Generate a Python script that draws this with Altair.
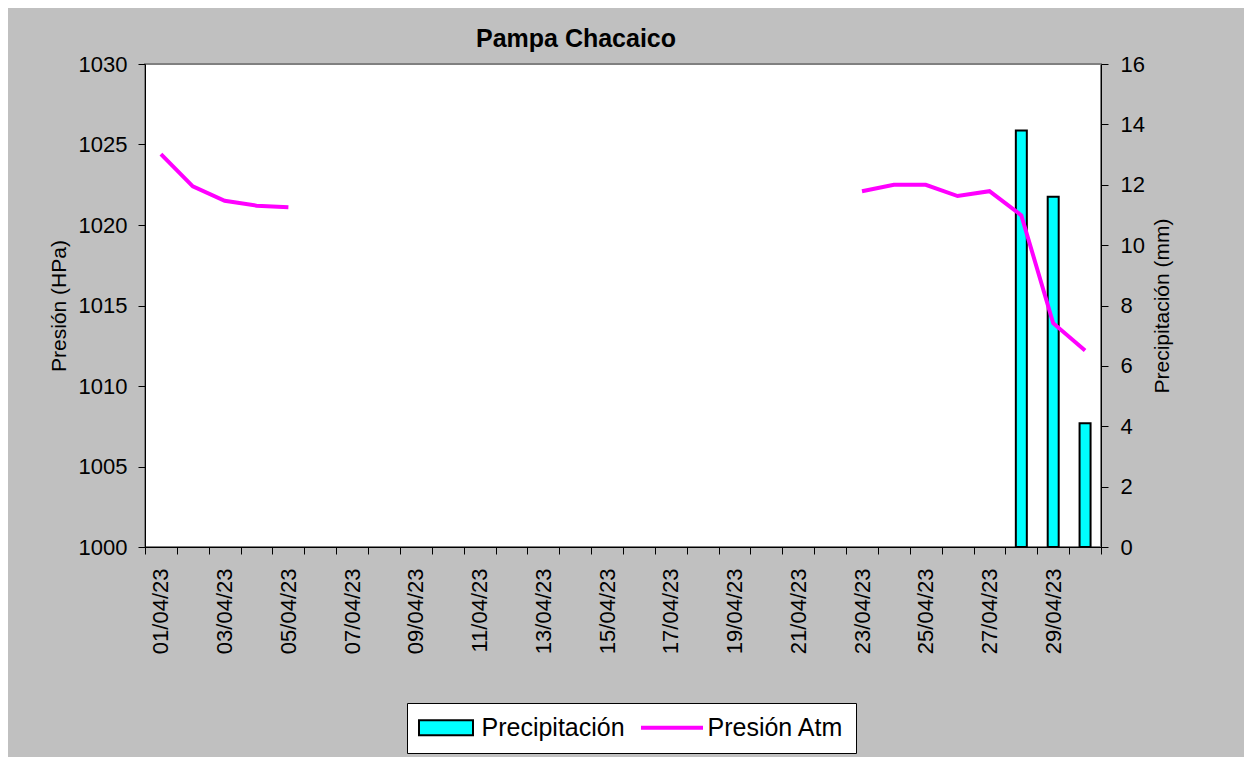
import altair as alt
import pandas as pd

dias = ["01/04/23", "02/04/23", "03/04/23", "04/04/23", "05/04/23", "06/04/23",
        "07/04/23", "08/04/23", "09/04/23", "10/04/23", "11/04/23", "12/04/23",
        "13/04/23", "14/04/23", "15/04/23", "16/04/23", "17/04/23", "18/04/23",
        "19/04/23", "20/04/23", "21/04/23", "22/04/23", "23/04/23", "24/04/23",
        "25/04/23", "26/04/23", "27/04/23", "28/04/23", "29/04/23", "30/04/23"]

presion = [1024.4, 1022.4, 1021.5, 1021.2, 1021.1,
           None, None, None, None, None, None, None, None, None, None, None,
           None, None, None, None, None, None,
           1022.1, 1022.5, 1022.5, 1021.8, 1022.1, 1020.6, 1013.9, 1012.2]

precipitacion = [None, None, None, None, None, None, None, None, None, None,
                 None, None, None, None, None, None, None, None, None, None,
                 None, None, None, None, None, None, None, 13.8, 11.6, 4.1]

series = ["Precipitación", "Presión Atm"]
relleno = ["#00FFFF", "#FF00FF"]
borde = ["#000000", "#FF00FF"]
simbolos = ["M-2.7,-0.75H2.7V0.75H-2.7Z", "M-3,-0.1H3V0.1H-3Z"]

ticks_presion = [1000, 1005, 1010, 1015, 1020, 1025, 1030]
ticks_precip = [0, 2, 4, 6, 8, 10, 12, 14, 16]

df = pd.DataFrame({"fecha": dias, "presion": presion, "precip": precipitacion})
df_leg = pd.DataFrame({"serie": series})

FONT = "Liberation Sans"

x_enc = alt.X(
    "fecha:N",
    sort=dias,
    scale=alt.Scale(type="band", domain=dias, paddingInner=0, paddingOuter=0),
    axis=alt.Axis(
        title=None, labelAngle=270, tickBand="extent", labelOverlap=False,
        labelExpr="toNumber(slice(datum.label, 0, 2)) % 2 == 1 ? datum.label : ''",
        tickSize=7, labelPadding=14, labelFontSize=22, labelColor="black",
        domainColor="black", tickColor="black", grid=False,
    ),
)

bars = alt.Chart(df).transform_filter("isValid(datum.precip)").mark_bar(
    width=alt.RelativeBandSize(0.345), fill="#00FFFF", stroke="black", strokeWidth=2
).encode(
    x=x_enc,
    y=alt.Y(
        "precip:Q",
        scale=alt.Scale(domain=[0, 16], nice=False, zero=True),
        axis=alt.Axis(
            orient="right", values=ticks_precip, title="Precipitación (mm)",
            titleAngle=270, titleBaseline="top", titleFontSize=21, titleFontWeight="normal",
            titlePadding=7, titleColor="black", labelFontSize=22, labelColor="black",
            labelPadding=12, tickSize=7, domainColor="black", tickColor="black", grid=False,
        ),
    ),
)

line = alt.Chart(df).mark_line(color="#FF00FF", strokeWidth=4).encode(
    x=x_enc,
    y=alt.Y(
        "presion:Q",
        scale=alt.Scale(domain=[1000, 1030], nice=False, zero=False),
        axis=alt.Axis(
            orient="left", values=ticks_presion, format="d", title="Presión (HPa)",
            titleFontSize=21, titleFontWeight="normal", titlePadding=9, titleColor="black",
            labelFontSize=22, labelColor="black", labelPadding=11, tickSize=7,
            domainColor="black", tickColor="black", grid=False,
        ),
    ),
)

leyenda = alt.Legend(
    title=None, orient="none", legendX=262, legendY=639, direction="horizontal",
    fillColor="white", strokeColor="black", padding=12,
    labelFontSize=25, labelColor="black", labelLimit=400,
    symbolSize=400, symbolOffset=14.5, labelOffset=23, columnPadding=13,
    symbolStrokeWidth=2,
)

leg_layer = alt.Chart(df_leg).transform_filter("false").mark_point(opacity=1, filled=False).encode(
    shape=alt.Shape("serie:N", scale=alt.Scale(domain=series, range=simbolos), legend=leyenda),
    fill=alt.Fill("serie:N", scale=alt.Scale(domain=series, range=relleno), legend=leyenda),
    stroke=alt.Stroke("serie:N", scale=alt.Scale(domain=series, range=borde), legend=leyenda),
)

chart = alt.layer(bars, line, leg_layer).resolve_scale(y="independent").properties(
    width=956, height=483,
    autosize=alt.AutoSizeParams(type="none"),
    padding={"left": 137, "top": 56, "right": 143, "bottom": 210},
    background="#C0C0C0",
    view=alt.ViewBackground(fill="white", stroke="#808080", strokeWidth=2),
    title=alt.Title("Pampa Chacaico", fontSize=25, fontWeight="bold", color="black",
                    anchor="middle", frame="group", dx=-47, dy=3, font=FONT),
).configure(font=FONT).configure_view(
    fill="white", stroke="#808080", strokeWidth=2
)

chart.save("out.html", embed_options={"renderer": "svg", "actions": False})
